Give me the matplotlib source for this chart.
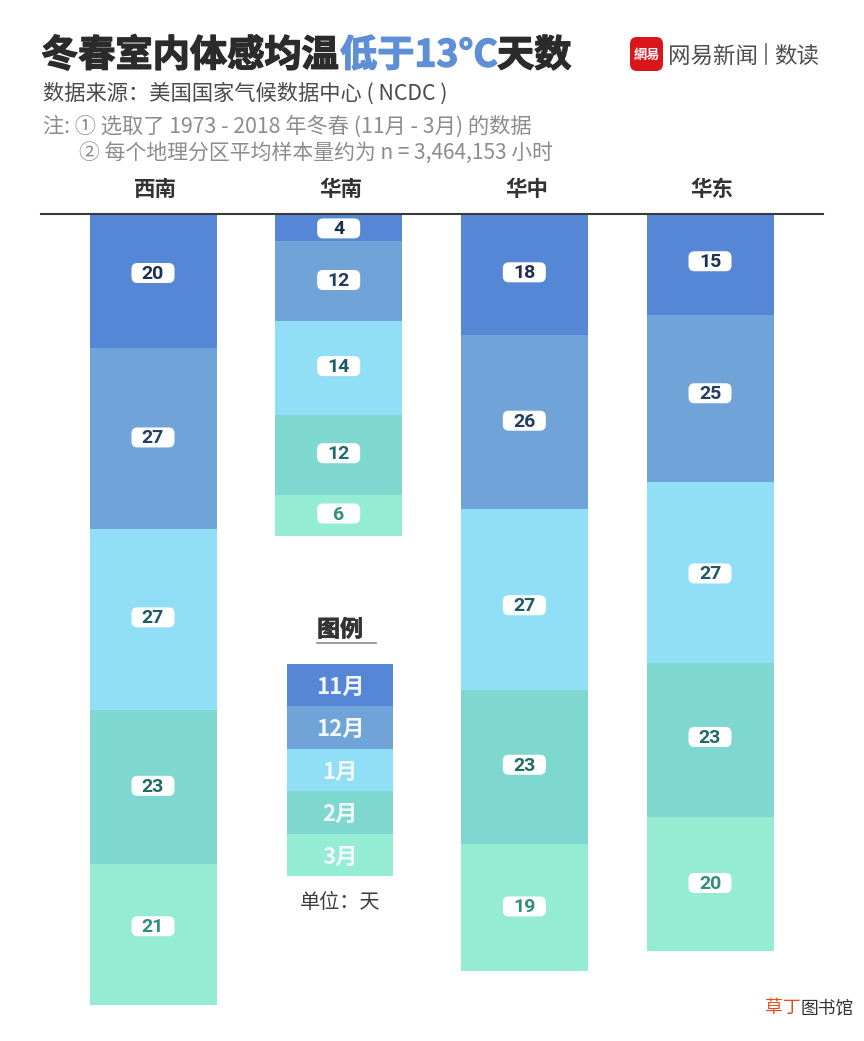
import matplotlib
matplotlib.use("Agg")
import matplotlib.pyplot as plt
import matplotlib.patheffects as pe
from matplotlib.patches import FancyBboxPatch

plt.rcParams['font.family'] = ['Noto Sans CJK SC', 'DejaVu Sans']

W, H = 864, 1041

regions = ["西南", "华南", "华中", "华东"]
months = ["11月", "12月", "1月", "2月", "3月"]
days = {
    "西南": [20, 27, 27, 23, 21],
    "华南": [4, 12, 14, 12, 6],
    "华中": [18, 26, 27, 23, 19],
    "华东": [15, 25, 27, 23, 20],
}

colors = ["#5686d6", "#70a4d9", "#90dff6", "#7ed8cf", "#94ecd2"]
label_colors = ["#1d2f55", "#1f3f63", "#1c5a68", "#1f6d68", "#2f8f7c"]

# labels do not sit exactly in the middle of their segment (pixels, up is negative)
nudge = {
    "西南": [-8, -1, -2, -1, -8],
    "华南": [1, -1, -2, -2, -2],
    "华中": [-2, -1, 6, -2, -1],
    "华东": [-3, -5, 1, -3, -1],
}

fig = plt.figure(figsize=(W / 100, H / 100), dpi=100, facecolor="white")


def axes_px(x0, y0, x1, y1):
    return fig.add_axes([x0 / W, 1 - y1 / H, (x1 - x0) / W, (y1 - y0) / H])


# page layer for the texts, in pixels
page = axes_px(0, 0, W, H)
page.set_xlim(0, W)
page.set_ylim(H, 0)
page.axis("off")

dark = "#2b2b2b"
heavy = [pe.withStroke(linewidth=1.0, foreground=dark)]
heavy_blue = [pe.withStroke(linewidth=1.0, foreground="#5f8fd6")]
page.text(41, 56, "冬春室内体感均温", fontsize=26.8, fontweight="black", color=dark, va="center", path_effects=heavy)
page.text(340, 56, "低于13°C", fontsize=26.8, fontweight="black", color="#5f8fd6", va="center", path_effects=heavy_blue)
page.text(497, 56, "天数", fontsize=26.8, fontweight="black", color=dark, va="center", path_effects=heavy)

page.text(43, 94, "数据来源：美国国家气候数据中心 ( NCDC )", fontsize=15.3, color="#4a4a4a", va="center")
page.text(43, 127, "注: ① 选取了 1973 - 2018 年冬春 (11月 - 3月) 的数据", fontsize=15.3, color="#8c8c8c", va="center")
page.text(79, 153, "② 每个地理分区平均样本量约为 n = 3,464,153 小时", fontsize=15, color="#8c8c8c", va="center")

# logo
page.add_patch(FancyBboxPatch((634, 41), 25, 26, boxstyle="round,pad=4,rounding_size=7",
                              fc="#d8161b", ec="none"))
page.text(646.5, 55, "網易", fontsize=9.5, color="white", ha="center", va="center", fontweight="bold")
page.text(668, 56, "网易新闻", fontsize=16.2, color="#4d4d4d", va="center")
page.plot([766, 766], [44, 64], color="#6a6a6a", lw=1.2)
page.text(774, 56, "数读", fontsize=16.2, color="#4d4d4d", va="center")

# watermark
page.text(765, 1008, "草丁", fontsize=12.8, color="#e0501e", va="center")
page.text(801, 1008, "图书馆", fontsize=12.8, color="#333333", va="center")

# main chart: x in region index, y in days, 6.7 px per day
px_x = 185.67
px_day = 6.7
ax = axes_px(41, 214, 823, H)
ax.patch.set_alpha(0)
ax.set_xlim((41 - 153) / px_x, (823 - 153) / px_x)
ax.set_ylim((H - 214) / px_day, 0)
for s in ["left", "right", "bottom"]:
    ax.spines[s].set_visible(False)
ax.spines["top"].set_color("#3a3a3a")
ax.spines["top"].set_linewidth(1.5)
ax.xaxis.tick_top()
ax.set_xticks([i + 0.012 for i in range(len(regions))])
ax.set_xticklabels(regions, fontsize=15.5, fontweight="bold", color="#333333")
ax.tick_params(axis="x", length=0, pad=10)
ax.set_yticks([])

bar_w = 127 / px_x
pill_w, pill_h = 33, 10
for i, r in enumerate(regions):
    bottom = 0
    for j, v in enumerate(days[r]):
        ax.bar(i, v, width=bar_w, bottom=bottom, color=colors[j], linewidth=0)
        yc = bottom + v / 2 + nudge[r][j] / px_day
        ax.add_patch(FancyBboxPatch(
            (i - pill_w / 2 / px_x, yc - pill_h / 2 / px_day), pill_w / px_x, pill_h / px_day,
            boxstyle="round,pad=%f,rounding_size=%f" % (5 / px_x, 6 / px_x),
            mutation_aspect=px_x / px_day, fc="white", ec="none", zorder=3))
        ax.text(i, yc + 0.15, str(v), fontsize=14, fontweight="bold", color=label_colors[j],
                ha="center", va="center", zorder=4, family=["Roboto", "DejaVu Sans"])
        bottom += v

# legend, drawn as its own equal-step stack
page.text(340, 630, "图例", fontsize=16.5, fontweight="bold", color="#333333", ha="center", va="center",
          path_effects=[pe.withStroke(linewidth=0.5, foreground="#333333")])
page.plot([317, 376], [643, 643], color="#8a8a8a", lw=1.2)
page.text(340, 903, "单位：天", fontsize=14.5, color="#3d3d3d", ha="center", va="center")

leg = axes_px(287, 664, 393, 876)
leg.set_xlim(0, 1)
leg.set_ylim(len(months), 0)
leg.axis("off")
for j, m in enumerate(months):
    leg.bar(0.5, 1, width=1, bottom=j, color=colors[j], linewidth=0)
    leg.text(0.5, j + 0.55, m, fontsize=16, fontweight="bold", color="#f2f8fb", ha="center", va="center")

fig.savefig("out.png", dpi=100, facecolor="white")
